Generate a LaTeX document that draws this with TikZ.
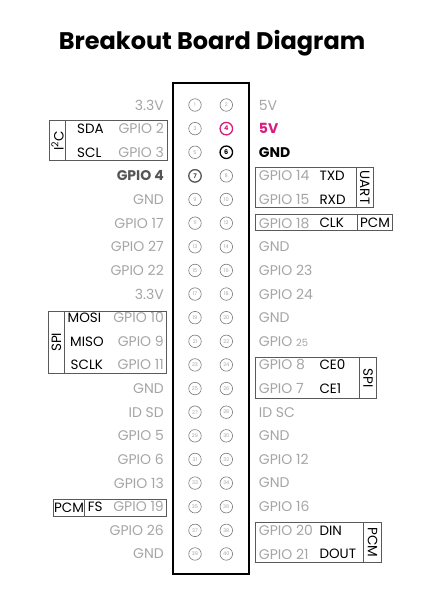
\documentclass[tikz,border=0pt]{standalone}
\usepackage{fontspec}
\setmainfont{Poppins}
\usepackage{tikz}

\definecolor{pinGrey}{RGB}{165,165,165}
\definecolor{ringGrey}{RGB}{120,120,120}
\definecolor{darkGrey}{RGB}{85,85,85}
\definecolor{boxGrey}{RGB}{90,90,90}
\definecolor{hotPink}{RGB}{214,28,124}

\begin{document}
\begin{tikzpicture}[x=1pt, y=-1pt]
 \tikzstyle{hole}=[circle, draw=ringGrey, line width=0.6pt, minimum size=12.5pt, inner sep=0pt, text=pinGrey, font=\fontsize{5}{5}\selectfont]
 \tikzstyle{hole4}=[draw=hotPink, text=hotPink, line width=1.3pt, font=\bfseries\fontsize{6.5}{6.5}\selectfont]
 \tikzstyle{hole6}=[draw=black, text=black, line width=1.3pt, font=\bfseries\fontsize{6.5}{6.5}\selectfont]
 \tikzstyle{hole7}=[draw=darkGrey, text=darkGrey, line width=1.3pt, font=\bfseries\fontsize{6.5}{6.5}\selectfont]
 \tikzstyle{lft}=[anchor=east, inner sep=0pt, text=pinGrey, font=\fontsize{14}{14}\selectfont]
 \tikzstyle{rgt}=[anchor=west, inner sep=0pt, text=pinGrey, font=\fontsize{14}{14}\selectfont]
 \tikzstyle{lftbold}=[lft, text=darkGrey, font=\bfseries\fontsize{14}{14}\selectfont]
 \tikzstyle{rgthot}=[rgt, text=hotPink, font=\bfseries\fontsize{14}{14}\selectfont]
 \tikzstyle{rgtblk}=[rgt, text=black, font=\bfseries\fontsize{14}{14}\selectfont]
 \tikzstyle{func}=[anchor=west, inner sep=0pt, text=black, font=\fontsize{13.5}{13.5}\selectfont]
 \tikzstyle{tag}=[inner sep=0pt, text=black, font=\fontsize{13.5}{13.5}\selectfont]
 \tikzstyle{grp}=[draw=boxGrey, line width=0.9pt]
 %
 \useasboundingbox (0,0) rectangle (424,600);
 \node[font=\bfseries\fontsize{24}{24}\selectfont] (title) at (212,43) {Breakout Board Diagram};
 %
 \draw[line width=1.2pt] (173,83) rectangle (249,574);
 %
 \foreach \r in {1,...,20}{
  \pgfmathtruncatemacro{\a}{2*\r-1}
  \pgfmathtruncatemacro{\b}{2*\r}
  \pgfmathsetmacro{\y}{105+23.63*(\r-1)}
  \node[hole, hole\a/.try] (p\a) at (195,\y) {\a};
  \node[hole, hole\b/.try] (p\b) at (226.3,\y) {\b};
 }
 %% odd side
 \foreach \r/\s/\t in {1/lft/3.3V, 2/lft/GPIO 2, 3/lft/GPIO 3, 4/lftbold/GPIO 4, 5/lft/GND,
   6/lft/GPIO 17, 7/lft/GPIO 27, 8/lft/GPIO 22, 9/lft/3.3V, 10/lft/GPIO 10,
   11/lft/GPIO 9, 12/lft/GPIO 11, 13/lft/GND, 14/lft/ID SD, 15/lft/GPIO 5,
   16/lft/GPIO 6, 17/lft/GPIO 13, 18/lft/GPIO 19, 19/lft/GPIO 26, 20/lft/GND}{
  \pgfmathsetmacro{\y}{105+23.63*(\r-1)}
  \node[\s] (gl\r) at (164,\y) {\t};
 }
 %% even side
 \foreach \r/\s/\t in {1/rgt/5V, 2/rgthot/5V, 3/rgtblk/GND, 4/rgt/GPIO 14, 5/rgt/GPIO 15,
   6/rgt/GPIO 18, 7/rgt/GND, 8/rgt/GPIO 23, 9/rgt/GPIO 24, 10/rgt/GND,
   11/rgt/{GPIO {\fontsize{10}{10}\selectfont 25}}, 12/rgt/GPIO 8, 13/rgt/GPIO 7, 14/rgt/ID SC, 15/rgt/GND,
   16/rgt/GPIO 12, 17/rgt/GND, 18/rgt/GPIO 16, 19/rgt/GPIO 20, 20/rgt/GPIO 21}{
  \pgfmathsetmacro{\y}{105+23.63*(\r-1)}
  \node[\s] (gr\r) at (258.7,\y) {\t};
 }
 %
 % I2C
 \draw[grp] (49.3,120.7) rectangle (167.3,160.3);
 \draw[grp] (65.7,120.7) -- (65.7,160.3);
 \node[tag, rotate=90] (i2c) at (57.5,140.5) {I\textsuperscript{2}C};
 \node[func] (sda) at (77,128.6) {SDA};
 \node[func] (scl) at (77,152.3) {SCL};
 % SPI left
 \draw[grp] (48.7,311.3) rectangle (166.3,373.3);
 \draw[grp] (64.3,311.3) -- (64.3,373.3);
 \node[tag, rotate=90] (spiL) at (56.5,342.3) {SPI};
 \node[func] (mosi) at (67.5,317.7) {MOSI};
 \node[func] (miso) at (70,341.3) {MISO};
 \node[func] (sclk) at (70.5,364.9) {SCLK};
 % PCM left
 \draw[grp] (53.3,499.3) rectangle (166,516);
 \draw[grp] (84.7,499.3) -- (84.7,516);
 \node[tag] (pcmL) at (69,507.7) {PCM};
 \node[func] (fs) at (87.7,506.7) {FS};
 % UART
 \draw[grp] (255.7,167.7) rectangle (373,207.3);
 \draw[grp] (356.3,167.7) -- (356.3,207.3);
 \node[tag, rotate=-90] (uart) at (364.7,187.5) {UART};
 \node[func] (txd) at (319.3,175.9) {TXD};
 \node[func] (rxd) at (319.3,199.5) {RXD};
 % PCM clock
 \draw[grp] (255.7,214.3) rectangle (392.3,230.3);
 \draw[grp] (357.7,214.3) -- (357.7,230.3);
 \node[tag] (pcmC) at (375,222.3) {PCM};
 \node[func] (clk) at (319.3,223.2) {CLK};
 % SPI right
 \draw[grp] (255.7,357.7) rectangle (376.3,398.3);
 \draw[grp] (359.7,357.7) -- (359.7,398.3);
 \node[tag, rotate=-90] (spiR) at (368,378) {SPI};
 \node[func] (ce0) at (319.3,364.9) {CE0};
 \node[func] (ce1) at (319.3,388.6) {CE1};
 % PCM right
 \draw[grp] (255.7,522.3) rectangle (381.7,562.7);
 \draw[grp] (363.7,522.3) -- (363.7,562.7);
 \node[tag, rotate=-90] (pcmR) at (372.7,542.5) {PCM};
 \node[func] (din) at (319.3,530.3) {DIN};
 \node[func] (dout) at (319.3,554) {DOUT};
\end{tikzpicture}
\end{document}
